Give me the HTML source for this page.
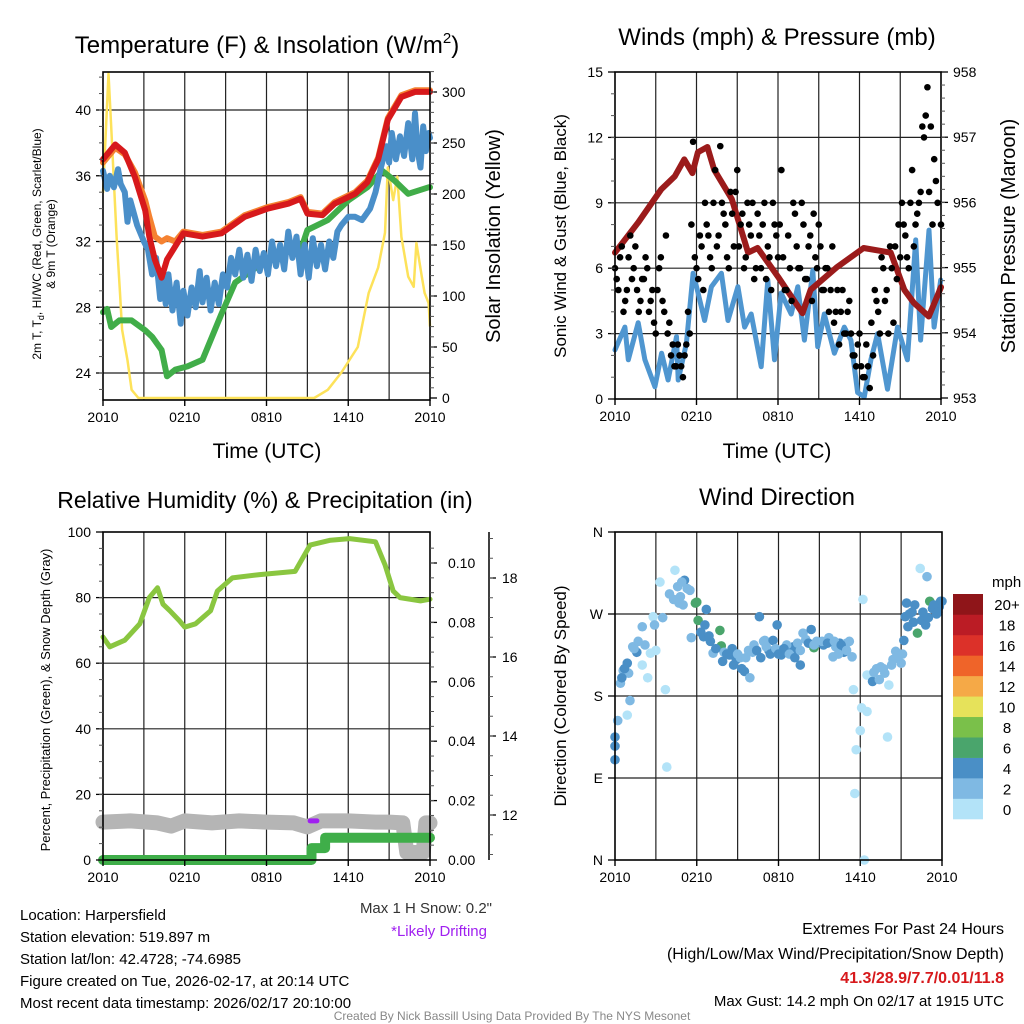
<!DOCTYPE html>
<html><head><meta charset="utf-8"><style>
html,body{margin:0;padding:0;background:#fff;}
svg{display:block;font-family:"Liberation Sans",Arial,sans-serif;}
</style></head><body>
<svg id="c" width="1024" height="1024" viewBox="0 0 1024 1024" xmlns="http://www.w3.org/2000/svg"></svg>
<script>
// ---------- data ----------
const xTickHours = [0, 6, 12, 18, 24];
const xTickLabels = ['2010', '0210', '0810', '1410', '2010'];

const tempTime = [0,0.9,1.6,2.35,3.1,3.4,3.8,4.3,4.7,5.3,5.9,7.3,8.7,10.4,12.1,13.6,14.5,15,16.1,17,18.5,19.4,20.2,20.9,21.9,22.9,24];
const tempRed = [37,37.9,37.4,35.9,33.9,32.3,30.9,29.8,30.9,31.7,32.5,32.3,32.5,33.5,34,34.3,34.6,33.7,33.6,34.3,34.9,35.6,37,39.4,40.8,41.1,41.1];
const tempOrange = [36.8,37.7,37.3,36.2,34.5,33.5,32.3,32.0,32.2,32.0,32.6,32.4,32.6,33.6,34.1,34.4,34.7,33.8,33.7,34.4,35.0,35.7,37.1,39.5,40.9,41.2,41.2];
const dewTime = [0,0.3,0.6,1.2,2.1,3.1,3.6,4.3,4.7,5.3,6.2,7.3,8,8.7,9.7,11.2,13.1,14.6,15,16.5,18,19.4,20.5,21.4,22.4,23.9,24];
const dewVal = [27.7,27.9,26.8,27.2,27.2,26.6,26.2,25.4,23.8,24.2,24.4,24.8,26.2,27.6,29.5,30.4,31.3,31.7,32.7,33.3,34.5,35.3,36.3,35.7,34.9,35.3,35.3];
const wcTime = [0,0.3,0.5,0.8,1.1,1.3,1.6,1.8,2.0,2.5,3.0,3.3,3.6,3.9,4.2,4.4,4.6,4.8,5.1,5.4,5.7,5.9,6.2,6.5,6.8,7.1,7.3,7.6,7.9,8.2,8.5,8.8,9.1,9.4,9.7,10.0,10.3,10.6,10.9,11.2,11.5,11.8,12.1,12.4,12.7,13.0,13.3,13.6,13.9,14.2,14.5,14.8,15.1,15.4,15.7,16.0,16.3,16.6,16.9,17.2,17.5,18.0,18.5,19.0,19.6,20.0,20.4,20.8,21.0,21.2,21.5,21.8,22.1,22.4,22.7,22.9,23.1,23.3,23.5,23.7,23.9,24];
const wcVal = [36.3,35.2,36.0,35.3,36.4,35.5,35.0,33.2,34.5,33.0,32.0,31.5,30.0,31.0,28.5,29.8,28.2,30.0,27.8,29.5,27.0,29.0,27.5,29.2,28.0,30.2,28.3,29.8,27.8,29.5,28.2,30.0,29.2,31.0,30.0,31.5,29.8,31.2,29.6,31.5,30.2,31.3,30.0,32.0,30.5,31.8,30.3,32.6,31.0,32.3,30.0,31.8,29.8,32.2,30.5,31.8,30.3,32.0,31.0,32.6,33.0,33.5,33.5,33.3,34.0,35.0,36.5,37.8,36.8,38.6,37.0,38.4,37.2,39.2,37.0,39.8,37.5,36.5,39.0,37.5,38.6,38.3];
const solarTime = [0,0.4,0.6,1,1.25,1.4,1.8,2.1,2.6,15.5,16.5,17.5,18.7,19.5,20.2,20.7,20.9,21.3,21.6,21.9,22.4,22.8,23,23.4,23.6,23.9,24];
const solarVal = [201,318,266,158,103,67,37,8,0,0,8,25,50,103,128,162,226,194,217,158,119,109,152,119,103,93,70];

const windTime = [0,0.73,0.98,1.71,2.2,2.94,3.43,3.91,4.53,4.65,5.26,5.75,6.12,6.6,7.1,7.83,8.32,9.05,9.54,10.03,10.76,11.25,11.74,12.23,12.97,13.46,13.94,14.56,14.92,15.41,16.15,16.88,17.37,17.86,18.35,18.84,19.33,20.06,20.8,21.53,22.14,22.5,23.12,23.49,23.98];
const windVal = [2.25,3.3,1.8,3.5,1.8,0.56,2.1,0.87,2.86,0.87,2.55,5.77,4.86,3.6,5.15,5.77,3.6,5.15,3.3,3.9,1.48,5.46,1.8,4.86,3.9,5.15,2.7,5.9,2.4,3.9,2.1,3.3,2.7,0.3,0.1,1.8,3.0,0.45,3.3,1.8,7.3,2.7,7.75,3.3,5.46];
const gustVal = [6,5,7,4.5,6.5,5.5,7,4,5.5, 6.5,4,5,3,6,4.5,7.5,3.5, 2.5,1.5,2,1,2.5,3, 11.8,6,7.5,5,8,6.5, 9,7,11.6,8.5,6.5,9.5,7,10.5, 8,6,9,7.5,5.5,8.5,6,9,7,5,8,6.5, 10.5,5,7.5,4.5,8.5,6,9,5.5, 7,4.5,6.5,8,5,6,4,7, 4,2.5,5,3,4.5,2, 1.5,3,1,2.5,0.5,2, 4.5,3,6,5,7,3.5,5.5,6.5, 8,6.5,9,7,8.5,9.5, 12,14.3,12.5,11,9,8];
const gustValB = [5.5,6.5,4,5,7.5,6,5,4.5, 5.5,6,4.5,3.5,5,6.5,4,3, 2,1.5,2.5,1.5,2,4, 8,6.5,5.5,7,9,7.5, 6,10.5,7.5,9,8,6,8.5,9.5, 7,8.5,6.5,8,9,6,7.5,8,5.5,6.5,9,7.5, 8,6.5,5,6,9,7,6,8, 5.5,7.5,8.5,6,7,5,6,5, 3.5,5,4,3,4,3, 2,2.5,1.5,1,1.5,3.5, 5,4,6.5,4.5,3,6,7,8, 9,7.5,6,10.5,8,9, 12.5,13,9.5,8,10];
const pressTime = [0,1.7,3.4,4.4,5.1,5.7,6.1,6.8,7.3,8.6,9.8,10.5,12,13.8,14.4,16.3,18.3,20.3,21.3,22,23.1,24];
const pressVal = [955.23,955.69,956.2,956.4,956.66,956.45,956.77,956.85,956.5,956.05,955.23,955.3,954.86,954.3,954.66,955.0,955.3,955.23,954.66,954.46,954.25,954.7];

const rhTime = [0,0.5,1.6,2.7,3.4,4,4.4,4.9,5.6,6,6.8,7.9,8.4,9.5,11.5,14.1,15.2,16.7,18.1,20,20.7,21.3,21.8,23.3,24];
const rhVal = [68,65,67,72,80,83,78,76,73,71,72,76,82,86,87,88,96,97.5,98,97,90,82,80,79,79.5];
const precipTime = [0,15.3,15.3,16.3,16.3,24];
const precipVal = [0,0,0.004,0.004,0.0075,0.0075];
const snowTime = [0,2,4,5,6,8,10,12,14,15,16,18,20,21,22,22.3,23.5,23.7,24];
const snowVal = [11.82,11.85,11.8,11.72,11.85,11.8,11.85,11.82,11.8,11.7,11.85,11.85,11.82,11.82,11.8,11.05,11.05,11.8,11.8];
const driftTime = [15.2, 15.7];
const driftVal = [11.85, 11.85];

const wdTime = [0,0,0,0.2,0.9,1.1,0.4,0.6,0.9,1.3,2.0,2.0,2.4,2.6,2.8,2.9,3.7,3.8,3.3,4.4,5.1,4.8,5.5,6.0,5.9,6.1,6.7,6.5,7.7,7.8,7.2,8.4,8.9,9.5,9.9,10.6,11.0,11.6,11.9,12.2,13.1,13.6,13.8,14.4,14.6,15.0,16.0,16.5,17.0,17.4,17.5,18.1,18.5,18.0,17.7,17.6,18.3,18.2,18.5,18.9,19.5,20.1,20.0,20.6,21.0,21.2,21.3,21.4,21.9,22.2,22.5,22.8,22.4,22.9,23.1,23.5,23.9,23.6,
  8.0,8.6,9.2,9.8,10.2,10.9,11.3,12.6,13.0,13.4,14.0,14.8,15.3,15.7,16.2,16.8,17.2,5.6,4.6,4.9,5.3,3.0,1.6,1.0,0.7,19.2,19.8,20.4,21.6,22.0,23.3,23.8,
  7.0,7.4,7.9,8.2,8.7,9.0,9.3,9.6,10.1,10.4,10.7,11.1,11.4,11.8,12.0,12.4,12.8,13.2,13.6,14.2,14.6,15.2,15.6,16.1,16.4,16.6,17.0,6.3,6.6,6.9,4.0,4.3,4.7,5.0,3.5,2.2,1.4,0.5,1.7,19.0,19.4,19.7,20.3,20.8,21.1,21.5,21.8,22.6,23.0,23.4,23.7,24];
const wdDir = [110,125,135,153,159,175,194,208,216,234,256,214,200,227,267,258,187,102,305,318,307,289,296,283,282,263,275,245,252,235,227,225,220,207,200,267,241,241,258,225,234,214,249,253,233,239,223,238,238,223,187,167,163,142,121,73,0,286,203,196,212,192,135,229,216,241,267,282,261,249,263,258,320,311,284,275,284,270,
  228,232,222,230,236,240,230,236,228,238,242,240,236,244,234,228,240,244,300,305,298,230,228,205,210,210,205,220,270,280,276,278,
  240,232,218,226,214,226,210,222,228,230,222,234,226,232,226,232,226,222,230,238,236,240,238,240,226,236,230,250,258,246,292,286,282,280,266,236,232,200,240,206,198,210,214,224,226,256,272,272,266,280,272,284];
const wdSpeed = [4,4,4,3,1,3,3,3,4,3,3,1,1,1,1,3,1,1,1,1,4,3,3,7,6,7,5,5,7,7,3,5,5,5,2,5,3,4,5,5,4,5,3,4,7,3,3,5,3,3,1,1,1,1,1,1,1,1,1,4,3,1,1,3,3,4,4,5,5,7,5,5,1,3,7,5,5,4,
  3,5,3,3,3,3,5,3,5,3,3,3,5,3,3,5,3,3,3,3,3,1,5,3,5,3,3,3,5,5,5,5,
  5,5,5,5,5,3,5,3,3,5,5,3,5,3,5,5,3,5,3,5,3,3,5,3,3,5,3,5,5,5,3,3,3,3,3,3,3,5,3,3,3,3,3,3,3,5,5,5,5,5,5,5];
const cbLabels = ['0','2','4','6','8','10','12','14','16','18','20+'];
const cbColors = ['#b3e3f8','#7fb9e3','#4a8fc6','#4aa56c','#7ac04a','#e6e25a','#f5a947','#ef6429','#dc3129','#bb1c25','#8f1519'];

// ---------- helpers ----------
const NS = 'http://www.w3.org/2000/svg';
const svg = document.getElementById('c');
function mk(tag, attrs, parent) {
  const e = document.createElementNS(NS, tag);
  for (const k in attrs) e.setAttribute(k, attrs[k]);
  (parent || svg).appendChild(e);
  return e;
}
function txt(x, y, s, size, anchor, parent, extra) {
  const e = mk('text', Object.assign({x: x, y: y, 'font-size': size, 'text-anchor': anchor || 'middle', fill: '#000'}, extra || {}), parent);
  e.textContent = s;
  return e;
}
function linear(d0, d1, r0, r1) { return v => r0 + (v - d0) * (r1 - r0) / (d1 - d0); }
function pathFrom(xs, ys, fx, fy) {
  let d = '';
  for (let i = 0; i < xs.length; i++) d += (i ? 'L' : 'M') + fx(xs[i]).toFixed(1) + ',' + fy(ys[i]).toFixed(1);
  return d;
}
function frame(g, x0, x1, y0, y1, hy) {
  for (let h = 3; h < 24; h += 3) {
    const x = x0 + (x1 - x0) * h / 24;
    mk('line', {x1: x, x2: x, y1: y0, y2: y1, stroke: '#222', 'stroke-width': 1.2}, g);
  }
  hy.forEach(y => mk('line', {x1: x0, x2: x1, y1: y, y2: y, stroke: '#222', 'stroke-width': 1.2}, g));
}
function border(g, x0, x1, y0, y1) {
  mk('rect', {x: x0, y: y0, width: x1 - x0, height: y1 - y0, fill: 'none', stroke: '#000', 'stroke-width': 1.6}, g);
}
function xAxis(g, fx, y) {
  xTickHours.forEach((h, i) => {
    mk('line', {x1: fx(h), x2: fx(h), y1: y, y2: y + 6, stroke: '#000', 'stroke-width': 1.4}, g);
    const t = txt(fx(h), y + 22, xTickLabels[i], 14, 'middle', g);
    
    
  });
}
function yTicks(g, x, vals, labels, fy, dir, minor, labOff) {
  vals.forEach((v, i) => {
    mk('line', {x1: x, x2: x + dir * 7, y1: fy(v), y2: fy(v), stroke: '#000', 'stroke-width': 1.3}, g);
    const t = txt(x + dir * (labOff || 12), fy(v) + 5, labels[i], 14, dir < 0 ? 'end' : 'start', g);
    
    
  });
  (minor || []).forEach(v => mk('line', {x1: x, x2: x + dir * 4, y1: fy(v), y2: fy(v), stroke: '#555', 'stroke-width': 1}, g));
}
function range(a, b, s) { const r = []; for (let v = a; v <= b + 1e-9; v += s) r.push(+v.toFixed(4)); return r; }

// ---------- panel 1 ----------
{
  const g = mk('g', {});
  
  
  const x0 = 103, x1 = 430, y0 = 72, y1 = 400;
  const fx = linear(0, 24, x0, x1);
  const fy = linear(24, 40, 373, 110);
  const fs = linear(0, 300, 398, 92);
  frame(g, x0, x1, y0, y1, [24, 28, 32, 36, 40].map(fy));
  const sol = mk('path', {d: pathFrom(solarTime, solarVal, fx, fs), fill: 'none', stroke: '#fde25a', 'stroke-width': 2.5, 'stroke-linejoin': 'round'}, g);
  
  
  const dew = mk('path', {d: pathFrom(dewTime, dewVal, fx, fy), fill: 'none', stroke: '#41ad49', 'stroke-width': 6, 'stroke-linejoin': 'round', 'stroke-linecap': 'round'}, g);
  
  
  const wc = mk('path', {d: pathFrom(wcTime, wcVal, fx, fy), fill: 'none', stroke: '#4a8fc9', 'stroke-width': 6, 'stroke-linejoin': 'round', 'stroke-linecap': 'round'}, g);
  
  
  const ora = mk('path', {d: pathFrom(tempTime, tempOrange, fx, fy), fill: 'none', stroke: '#f58231', 'stroke-width': 6, 'stroke-linejoin': 'round', 'stroke-linecap': 'round'}, g);
  
  
  const red = mk('path', {d: pathFrom(tempTime, tempRed, fx, fy), fill: 'none', stroke: '#d7191c', 'stroke-width': 6, 'stroke-linejoin': 'round', 'stroke-linecap': 'round'}, g);
  
  
  border(g, x0, x1, y0, y1);
  xAxis(g, fx, y1);
  yTicks(g, x0, [24, 28, 32, 36, 40], ['24', '28', '32', '36', '40'], fy, -1, range(23, 42, 1));
  yTicks(g, x1, [0, 50, 100, 150, 200, 250, 300], ['0', '50', '100', '150', '200', '250', '300'], fs, 1, range(10, 320, 10));
  let t = txt(267, 53, '', 24, 'middle', g);
  t.innerHTML = 'Temperature (F) &amp; Insolation (W/m<tspan dy="-10" font-size="15">2</tspan><tspan dy="10">)</tspan>';
  
  
  t = txt(267, 458, 'Time (UTC)', 21, 'middle', g);
  
  
  t = txt(0, 0, '', 12, 'middle', g, {transform: 'translate(41,244) rotate(-90)'});
  t.innerHTML = '2m T, T<tspan dy="3" font-size="9">d</tspan><tspan dy="-3">, HI/WC (Red, Green, Scarlet/Blue)</tspan>';
  
  
  t = txt(0, 0, '& 9m T (Orange)', 12, 'middle', g, {transform: 'translate(55,244) rotate(-90)'});
  
  
  t = txt(0, 0, 'Solar Insolation (Yellow)', 20, 'middle', g, {transform: 'translate(500,236) rotate(-90)'});
  
  
}

// ---------- panel 2 ----------
{
  const g = mk('g', {});
  
  
  const x0 = 615, x1 = 941, y0 = 72, y1 = 399;
  const fx = linear(0, 24, x0, x1);
  const fy = linear(0, 15, 399, 72);
  const fp = linear(953, 958, 398, 72);
  frame(g, x0, x1, y0, y1, [3, 6, 9, 12].map(fy));
  const w = mk('path', {d: pathFrom(windTime, windVal, fx, fy), fill: 'none', stroke: '#4f96d0', 'stroke-width': 5, 'stroke-linejoin': 'round', 'stroke-linecap': 'round'}, g);
  
  
  const pr = mk('path', {d: pathFrom(pressTime, pressVal, fx, fp), fill: 'none', stroke: '#9b1b1b', 'stroke-width': 6, 'stroke-linejoin': 'round', 'stroke-linecap': 'round'}, g);
  
  
  gustVal.forEach((v, i) => {
    const c = mk('circle', {cx: fx(i * 0.25), cy: fy(v), r: 3.3, fill: '#000'}, g);
    
    
  });
  gustValB.forEach((v, i) => {
    const c = mk('circle', {cx: fx(i * 0.25 + 0.125), cy: fy(v), r: 3.3, fill: '#000'}, g);
    
    
  });
  border(g, x0, x1, y0, y1);
  xAxis(g, fx, y1);
  yTicks(g, x0, [0, 3, 6, 9, 12, 15], ['0', '3', '6', '9', '12', '15'], fy, -1, range(1, 14, 1));
  yTicks(g, x1, [953, 954, 955, 956, 957, 958], ['953', '954', '955', '956', '957', '958'], fp, 1, range(953.2, 957.8, 0.2));
  let t = txt(777, 45, 'Winds (mph) & Pressure (mb)', 24, 'middle', g);
  
  
  t = txt(777, 458, 'Time (UTC)', 21, 'middle', g);
  
  
  t = txt(0, 0, 'Sonic Wind & Gust (Blue, Black)', 17, 'middle', g, {transform: 'translate(566,236) rotate(-90)'});
  
  
  t = txt(0, 0, 'Station Pressure (Maroon)', 20, 'middle', g, {transform: 'translate(1015,236) rotate(-90)'});
  
  
}

// ---------- panel 3 ----------
{
  const g = mk('g', {});
  
  
  const x0 = 103, x1 = 430, y0 = 532, y1 = 860;
  const fx = linear(0, 24, x0, x1);
  const fy = linear(0, 100, 860, 532);
  const fpc = linear(0, 0.1, 860, 563);
  const fsn = linear(12, 18, 815, 578);
  frame(g, x0, x1, y0, y1, [20, 40, 60, 80].map(fy));
  const sn = mk('path', {d: pathFrom(snowTime, snowVal, fx, fsn), fill: 'none', stroke: '#b5b5b5', 'stroke-width': 15, 'stroke-linejoin': 'round', 'stroke-linecap': 'round'}, g);
  
  
  const dr = mk('path', {d: pathFrom(driftTime, driftVal, fx, fsn), fill: 'none', stroke: '#a020f0', 'stroke-width': 5, 'stroke-linecap': 'round'}, g);
  
  
  const pc = mk('path', {d: pathFrom(precipTime, precipVal, fx, fpc), fill: 'none', stroke: '#3fae49', 'stroke-width': 10, 'stroke-linejoin': 'round', 'stroke-linecap': 'round'}, g);
  
  
  const rh = mk('path', {d: pathFrom(rhTime, rhVal, fx, fy), fill: 'none', stroke: '#8ac640', 'stroke-width': 5, 'stroke-linejoin': 'round', 'stroke-linecap': 'round'}, g);
  
  
  border(g, x0, x1, y0, y1);
  xAxis(g, fx, y1);
  yTicks(g, x0, [0, 20, 40, 60, 80, 100], ['0', '20', '40', '60', '80', '100'], fy, -1, range(5, 95, 5));
  yTicks(g, x1, [0, 0.02, 0.04, 0.06, 0.08, 0.1], ['0.00', '0.02', '0.04', '0.06', '0.08', '0.10'], fpc, 1, range(0.005, 0.105, 0.005), 18);
  mk('line', {x1: 489, x2: 489, y1: 532, y2: 860, stroke: '#000', 'stroke-width': 1.5}, g);
  yTicks(g, 489, [12, 14, 16, 18], ['12', '14', '16', '18'], fsn, 1, range(11, 19, 0.5), 13);
  let t = txt(265, 508, 'Relative Humidity (%) & Precipitation (in)', 23, 'middle', g);
  
  
  t = txt(0, 0, 'Percent, Precipitation (Green), & Snow Depth (Gray)', 13, 'middle', g, {transform: 'translate(50,700) rotate(-90)'});
  
  
}

// ---------- panel 4 ----------
{
  const g = mk('g', {});
  
  
  const x0 = 615, x1 = 942, y0 = 532, y1 = 860;
  const fx = linear(0, 24, x0, x1);
  const fy = linear(0, 360, 860, 532);
  frame(g, x0, x1, y0, y1, [90, 180, 270].map(fy));
  wdTime.forEach((tt, i) => {
    const s = wdSpeed[i];
    const ci = Math.min(10, Math.floor(s / 2));
    const c = mk('circle', {cx: fx(tt), cy: fy(wdDir[i]), r: 4.8, fill: cbColors[ci]}, g);
    
    
  });
  border(g, x0, x1, y0, y1);
  xAxis(g, fx, y1);
  yTicks(g, x0, [0, 90, 180, 270, 360], ['N', 'E', 'S', 'W', 'N'], fy, -1, []);
  let t = txt(777, 505, 'Wind Direction', 24, 'middle', g);
  
  
  t = txt(0, 0, 'Direction (Colored By Speed)', 17, 'middle', g, {transform: 'translate(566,696) rotate(-90)'});
  
  
  const lg = mk('g', {}, g);
  
  
  t = txt(992, 587, 'mph', 15, 'start', lg);
  
  
  const bh = (819 - 594) / cbColors.length;
  cbColors.forEach((col, i) => {
    const yy = 819 - (i + 1) * bh;
    const r = mk('rect', {x: 953, y: yy, width: 30, height: bh + 0.3, fill: col}, lg);
    
    
    const l = txt(1007, yy + bh / 2 + 6, cbLabels[i], 15, 'middle', lg);
    
    
  });
}

// ---------- footer text ----------
{
  const g = mk('g', {});
  
  
  const lines = ['Location: Harpersfield', 'Station elevation: 519.897 m', 'Station lat/lon: 42.4728; -74.6985', 'Figure created on Tue, 2026-02-17, at 20:14 UTC', 'Most recent data timestamp: 2026/02/17 20:10:00'];
  lines.forEach((s, i) => {
    const t = txt(20, 920 + i * 22, s, 15, 'start', g);
    
    
  });
  let t = txt(492, 913, 'Max 1 H Snow: 0.2"', 15, 'end', g, {fill: '#333'});
  
  
  t = txt(487, 936, '*Likely Drifting', 15, 'end', g, {fill: '#a020f0'});
  
  
  const g2 = mk('g', {});
  
  
  t = txt(1004, 934, 'Extremes For Past 24 Hours', 16, 'end', g2);
  
  
  t = txt(1004, 959, '(High/Low/Max Wind/Precipitation/Snow Depth)', 16, 'end', g2);
  
  
  t = txt(1004, 983, '41.3/28.9/7.7/0.01/11.8', 16, 'end', g2, {fill: '#d7191c', 'font-weight': 'bold'});
  
  
  t = txt(1004, 1006, 'Max Gust: 14.2 mph On 02/17 at 1915 UTC', 15, 'end', g2);
  
  
  t = txt(512, 1020, 'Created By Nick Bassill Using Data Provided By The NYS Mesonet', 12, 'middle', svg, {fill: '#888'});
  
  
}
</script>
</body></html>
